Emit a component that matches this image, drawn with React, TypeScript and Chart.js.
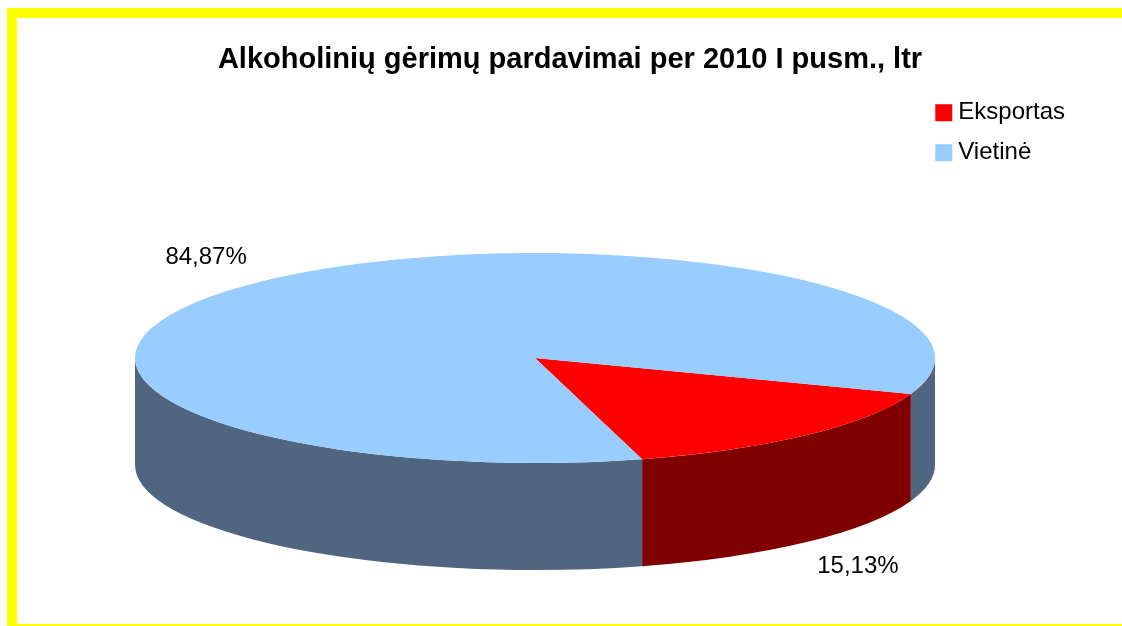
import React, { useEffect, useRef } from "react";
import { Chart, registerables } from "chart.js";

Chart.register(...registerables);

const categories = ["Eksportas", "Vietinė"];
const shares = [15.13, 84.87];
const topColors = ["#FF0000", "#99CCFF"];
const wallColors = ["#800000", "#4F6580"];
const titleText = "Alkoholinių gėrimų pardavimai per 2010 I pusm., ltr";

const FONT = "'Liberation Sans', Arial, sans-serif";
const CX = 535;
const CY = 358;
const RX = 400;
const RY = 105;
const DEPTH = 107;
const SQUASH = RY / RX;

const framePlugin = {
  id: "frame",
  beforeDraw(chart: any) {
    const { ctx, width, height } = chart;
    ctx.save();
    ctx.fillStyle = "#FFFFFF";
    ctx.fillRect(0, 0, width, height);
    ctx.fillStyle = "#FFFF00";
    ctx.fillRect(7, 8, width - 7, 10);
    ctx.fillRect(7, 8, 10, height - 8);
    ctx.fillRect(7, 624, width - 7, 2);
    ctx.restore();
  },
};

const pie3dPlugin = {
  id: "pie3d",
  beforeDatasetsDraw(chart: any) {
    const { ctx } = chart;
    const arcs = chart.getDatasetMeta(0).data;
    const TWO_PI = Math.PI * 2;
    arcs.forEach((arc: any, i: number) => {
      for (let k = -1; k <= 2; k++) {
        const a = Math.max(arc.startAngle, k * TWO_PI);
        const b = Math.min(arc.endAngle, k * TWO_PI + Math.PI);
        if (b <= a) continue;
        ctx.save();
        ctx.translate(CX, CY);
        ctx.scale(1, SQUASH);
        ctx.beginPath();
        ctx.arc(0, 0, arc.outerRadius, a, b);
        ctx.arc(0, DEPTH / SQUASH, arc.outerRadius, b, a, true);
        ctx.closePath();
        ctx.fillStyle = wallColors[i];
        ctx.fill();
        ctx.restore();
      }
    });
  },
  beforeDatasetDraw(chart: any) {
    const { ctx } = chart;
    const first = chart.getDatasetMeta(0).data[0];
    ctx.save();
    ctx.translate(CX, CY);
    ctx.scale(1, SQUASH);
    ctx.translate(-first.x, -first.y);
  },
  afterDatasetDraw(chart: any) {
    chart.ctx.restore();
  },
  afterDatasetsDraw(chart: any) {
    const { ctx } = chart;
    const arcs = chart.getDatasetMeta(0).data;
    ctx.save();
    ctx.font = `24px ${FONT}`;
    ctx.fillStyle = "#000000";
    ctx.textAlign = "center";
    ctx.textBaseline = "middle";
    arcs.forEach((arc: any, i: number) => {
      const mid = (arc.startAngle + arc.endAngle) / 2;
      const c = Math.cos(mid);
      const s = Math.sin(mid);
      const x = CX - 3 + RX * c * 1.2;
      const y = CY + RY * s * 1.31 + (s > 0 ? DEPTH : 0);
      ctx.fillText(shares[i].toFixed(2).replace(".", ",") + "%", x, y);
    });
    ctx.restore();
  },
};

export default function App() {
  const ref = useRef<HTMLCanvasElement>(null);
  useEffect(() => {
    const chart = new Chart(ref.current as HTMLCanvasElement, {
      type: "pie",
      data: {
        labels: categories,
        datasets: [
          {
            data: shares,
            backgroundColor: topColors,
            borderWidth: 0,
            clip: false,
          } as any,
        ],
      },
      options: {
        responsive: false,
        animation: false,
        events: [],
        rotation: 110,
        radius: RX,
        layout: { padding: { left: 65, right: 47, top: 0, bottom: 0 } },
        plugins: {
          tooltip: { enabled: false },
          title: {
            display: true,
            text: titleText,
            color: "#000000",
            font: { family: FONT, size: 29, weight: "bold" },
            padding: { top: 43, bottom: 7 },
          },
          legend: {
            display: true,
            position: "right",
            align: "start",
            fullSize: false,
            labels: {
              color: "#000000",
              font: { family: FONT, size: 24 },
              boxWidth: 5,
              boxHeight: 5,
              padding: 16,
              generateLabels(c: any) {
                const base = (Chart as any).overrides.doughnut.plugins.legend.labels.generateLabels(c);
                return base.map((item: any) => ({
                  ...item,
                  lineWidth: 12,
                  strokeStyle: item.fillStyle,
                }));
              },
            },
          },
        },
      } as any,
      plugins: [framePlugin, pie3dPlugin],
    });
    return () => chart.destroy();
  }, []);
  return (
    <div style={{ position: "fixed", left: 0, top: 0, width: 1122, height: 626 }}>
      <canvas ref={ref} width={1122} height={626} style={{ display: "block" }} />
    </div>
  );
}
